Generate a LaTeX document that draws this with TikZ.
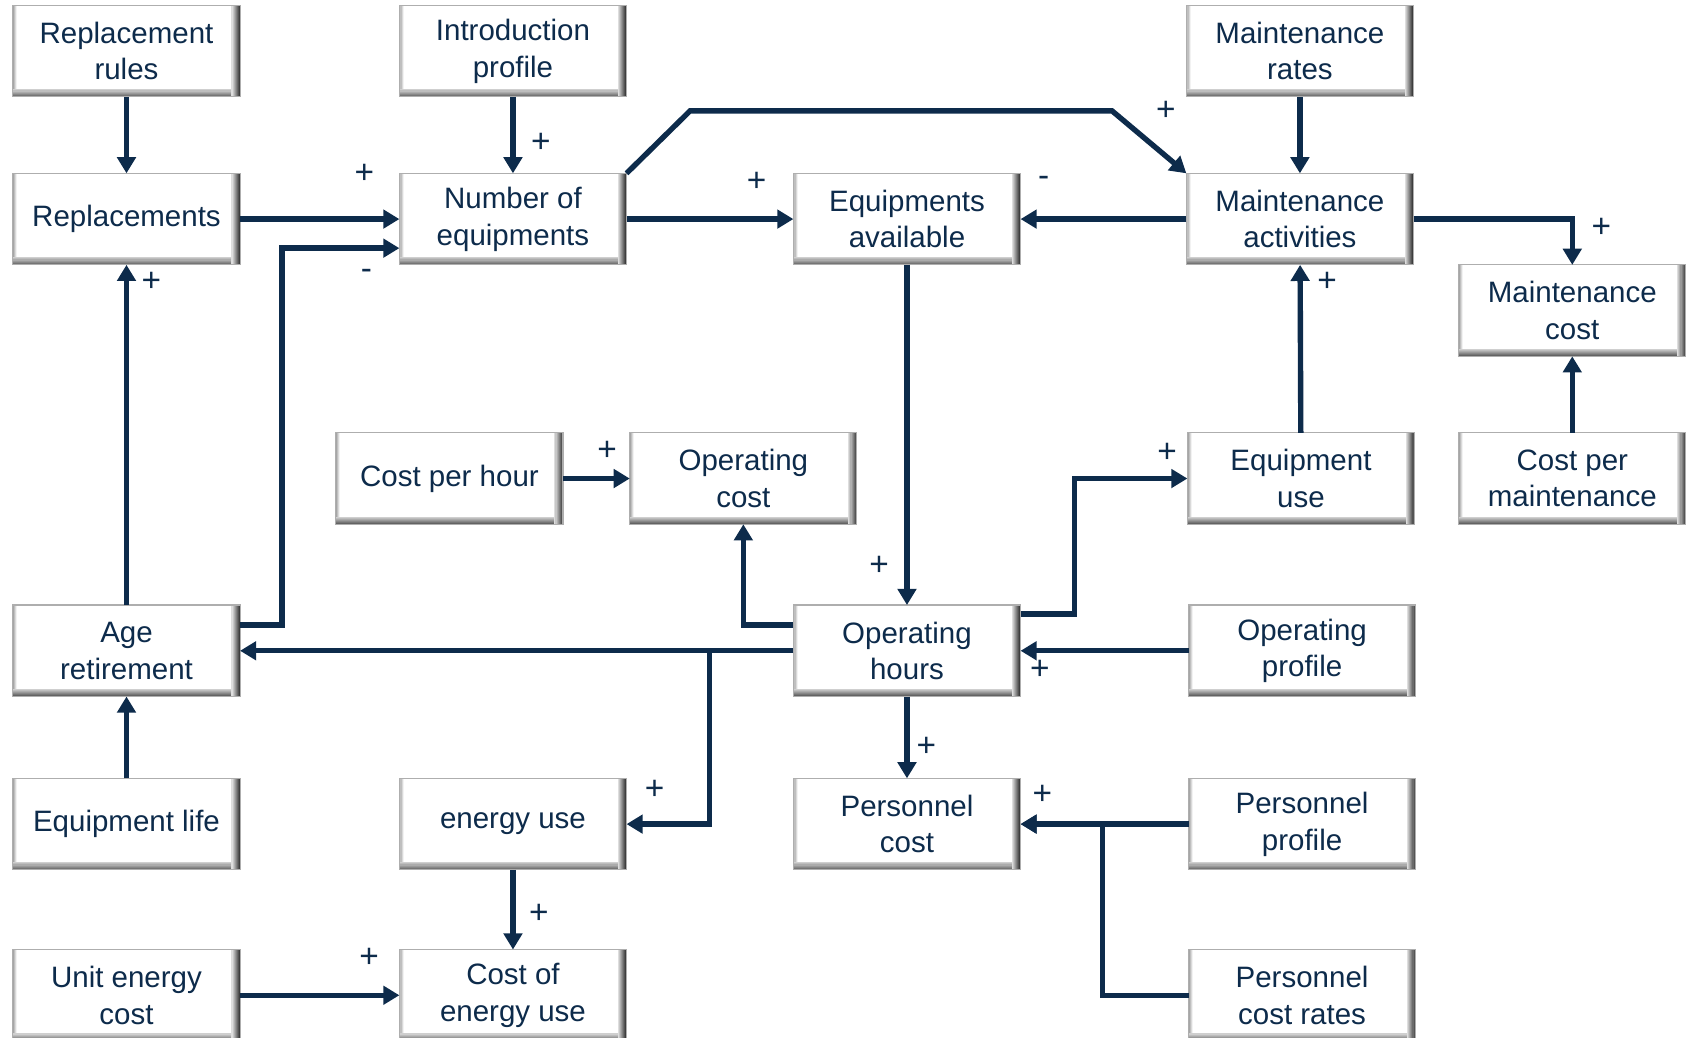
\documentclass[tikz,border=0pt]{standalone}
\usepackage{fontspec}
\setmainfont{Liberation Sans}
\usetikzlibrary{positioning,arrows.meta}
\definecolor{navy}{HTML}{0D2B4B}
\definecolor{rim}{HTML}{9A9A9A}
\tikzset{
  block/.style = {rectangle, minimum width=211pt, minimum height=85pt, outer sep=0pt,
                  fill=white, draw=rim!80, line width=1pt, align=center, text=navy,
                  font=\fontsize{27.4}{34}\selectfont,
                  path picture={
                    % bevel: right, bottom and left edges
                    \foreach \k [evaluate=\k as \c using int(4+\k*9)] in {1,...,8}
                      \fill[black!\c] ([xshift={-(9-\k)*1pt}]path picture bounding box.north east)
                        rectangle ([xshift={-(8-\k)*1pt}]path picture bounding box.south east);
                    \foreach \k [evaluate=\k as \c using int(12+\k*7)] in {1,...,7}
                      \fill[black!\c] ([yshift={(8-\k)*1pt}]path picture bounding box.south west)
                        rectangle ([xshift=-8pt,yshift={(7-\k)*1pt}]path picture bounding box.south east);
                    \foreach \k [evaluate=\k as \c using int(45-\k*10)] in {1,...,4}
                      \fill[black!\c] ([xshift={(\k-1)*1pt}]path picture bounding box.north west)
                        rectangle ([xshift={\k*1pt},yshift=7pt]path picture bounding box.south west);
                  }},
  flow/.style  = {-{Triangle[length=15pt,width=17pt]}, line width=5pt, draw=navy},
  sgn/.style   = {font=\fontsize{31}{31}\selectfont, text=navy, inner sep=0pt},
}

\begin{document}
\begin{tikzpicture}[x=1pt, y=-1pt]
  \useasboundingbox (0,0) rectangle (1568,964);

  % left and middle columns
  \node[block] (rrules) at (117.5,47.5) {Replacement\\rules};
  \node[block, below=71pt of rrules] (repl) {Replacements};
  \node[block, below=316pt of repl] (ageret) {Age\\retirement};
  \node[block, below=76pt of ageret] (eqlife) {Equipment life};
  \node[block, below=74pt of eqlife] (ucost) {Unit energy\\cost};
  \node[block, right=148pt of rrules] (intro) {Introduction\\profile};
  \node[block, right=148pt of repl] (numeq) {Number of\\equipments};
  \node[block, right=155pt of numeq] (eqavail) {Equipments\\available};
  \node[block, right=154pt of eqavail] (mact) {Maintenance\\activities};
  \node[block, above=71pt of mact] (mrates) {Maintenance\\rates};
  \node[block, below right=0pt and 42pt of mact] (mcost) {Maintenance\\cost};
  \node[block, below=71pt of mcost] (cpm) {Cost per\\maintenance};
  \node[block, left=41pt of cpm] (equse) {Equipment\\use};

  % operating part
  \node[block, below=316pt of eqavail] (ophrs) {Operating\\hours};
  \node[block, right=156pt of ophrs] (opprof) {Operating\\profile};
  \node[block, below=76pt of ophrs] (perscost) {Personnel\\cost};
  \node[block, right=156pt of perscost] (persprof) {Personnel\\profile};
  \node[block, below=74pt of persprof] (persrates) {Personnel\\cost rates};
  \node[block, left=155pt of perscost] (energy) {energy use};
  \node[block, below=74pt of energy] (encost) {Cost of\\energy use};
  \node[block, above=75pt of ophrs, xshift=-152pt] (opcost) {Operating\\cost};
  \node[block, left=62pt of opcost] (cph) {Cost per hour};

  \coordinate (kink) at ([xshift=-69pt,yshift=58pt]mact.north west);

  \draw[flow] (rrules) -- (repl);
  \draw[flow] (intro) -- node[sgn, pos=0.6, xshift=26pt]{+} (numeq);
  \draw[flow] (mrates) -- (mact);
  \draw[flow] (repl) -- node[sgn, pos=0.78, yshift=42pt]{+} (numeq);
  \draw[flow] ([yshift=24pt]ageret.east) -- ++(39pt,0)
    |- node[sgn, pos=0.86, yshift=-24pt]{-} ([yshift=-27pt]numeq.west);
  \draw[flow] (ageret) -- node[sgn, pos=0.95, xshift=23pt]{+} (repl);
  \draw[flow] (numeq) -- node[sgn, pos=0.78, yshift=35pt]{+} (eqavail);
  \draw[flow] (numeq.north east) -- ++(59pt,58pt) -- (kink)
    node[sgn, xshift=50pt]{+} -- (mact.north west);
  \draw[flow] (mact) -- node[sgn, pos=0.86, yshift=35pt]{-} (eqavail);
  \draw[flow] (mact.east) -| node[sgn, pos=0.6, xshift=27pt]{+} (mcost.north);
  \draw[flow] (equse) -- node[sgn, pos=0.9, xshift=25pt]{+} (mact);
  \draw[flow] (cpm) -- (mcost);
  \draw[flow] (eqavail) -- node[sgn, pos=0.886, xshift=-26pt]{+} (ophrs);
  \draw[flow] (cph) -- node[sgn, pos=0.66, yshift=26pt]{+} (opcost);
  \draw[flow] ([yshift=24pt]ophrs.west) -| (opcost.south);
  \draw[flow] ([yshift=34pt]ophrs.east) -- ++(50pt,0)
    |- node[sgn, pos=0.91, yshift=24pt]{+} (equse.west);
  \draw[flow] (opprof) -- node[sgn, pos=0.885, yshift=-18pt]{+} (ophrs);
  \draw[flow] (ophrs.west) -- (ageret.east);
  \draw[flow] ([xshift=-78pt]ophrs.west) |- node[sgn, pos=0.83, yshift=32pt]{+} (energy.east);
  \draw[flow] (ophrs) -- node[sgn, pos=0.62, xshift=18pt]{+} (perscost);
  \draw[flow] (persprof) -- node[sgn, pos=0.87, yshift=27pt]{+} (perscost);
  \draw[flow] (persrates.west) -- ++(-80pt,0) |- (perscost.east);
  \draw[flow] (eqlife) -- (ageret);
  \draw[flow] (energy) -- node[sgn, pos=0.55, xshift=24pt]{+} (encost);
  \draw[flow] (ucost) -- node[sgn, pos=0.81, yshift=35pt]{+} (encost);
\end{tikzpicture}
\end{document}
